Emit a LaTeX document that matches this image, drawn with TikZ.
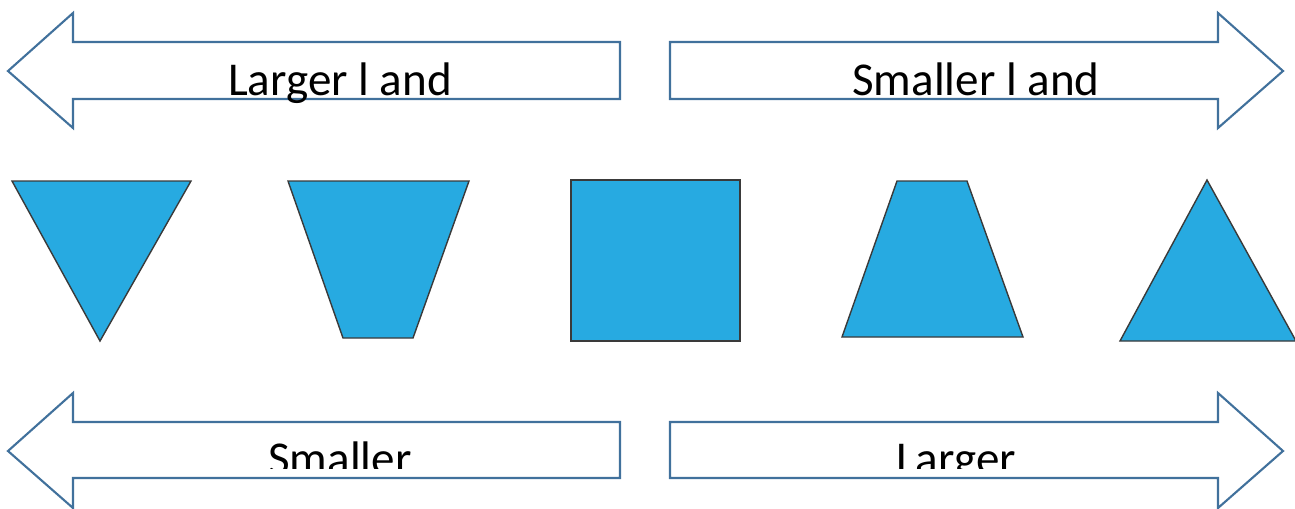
\documentclass[tikz,border=0pt]{standalone}
\usepackage{fontspec}
\setmainfont{Carlito}
\usepackage{xcolor}
\usepackage{tikz}
\definecolor{arrowblue}{HTML}{41719C}
\definecolor{shapecyan}{HTML}{27AAE1}
\definecolor{shapeedge}{HTML}{3A3A3A}

\begin{document}
\begin{tikzpicture}[x=0.02cm, y=-0.02cm,
        bigarrow/.style={draw=arrowblue, line width=1.2pt, line join=miter, fill=white},
        blockshape/.style={draw=shapeedge, fill=shapecyan, line width=0.8pt, line join=miter},
        arrowtext/.style={font=\fontsize{26.8}{30}\selectfont, inner sep=0pt, anchor=base}]

        \useasboundingbox (0,0) rectangle (1295,508);

        % top arrows
        \draw[bigarrow] (8,71) -- (73,13) -- (73,42) -- (620,42) -- (620,99) -- (73,99) -- (73,128) -- cycle;
        \draw[bigarrow] (1283,71) -- (1218,13) -- (1218,42) -- (670,42) -- (670,99) -- (1218,99) -- (1218,128) -- cycle;
        \node[arrowtext] (largerland) at (340,95) {Larger l and};
        \node[arrowtext] (smallerland) at (976,95) {Smaller l and};

        % shapes
        \draw[blockshape] (12,181) -- (191,181) -- (100,341) -- cycle;
        \draw[blockshape] (288,181) -- (469,181) -- (413,338) -- (343,338) -- cycle;
        \draw[blockshape] (571,180) rectangle (740,341);
        \draw[blockshape] (897,181) -- (967,181) -- (1023,337) -- (842,337) -- cycle;
        \draw[blockshape] (1207,180) -- (1296,341) -- (1120,341) -- cycle;

        % bottom arrows
        \draw[bigarrow] (8,451) -- (73,393) -- (73,422) -- (620,422) -- (620,478) -- (73,478) -- (73,508) -- cycle;
        \draw[bigarrow] (1283,451) -- (1218,393) -- (1218,422) -- (670,422) -- (670,478) -- (1218,478) -- (1218,508) -- cycle;
        \begin{scope}
            \clip (0,380) rectangle (1295,468);
            \node[arrowtext] (smaller) at (340,474) {Smaller};
            \node[arrowtext] (larger) at (956,474) {Larger};
        \end{scope}
    \end{tikzpicture}
\end{document}
